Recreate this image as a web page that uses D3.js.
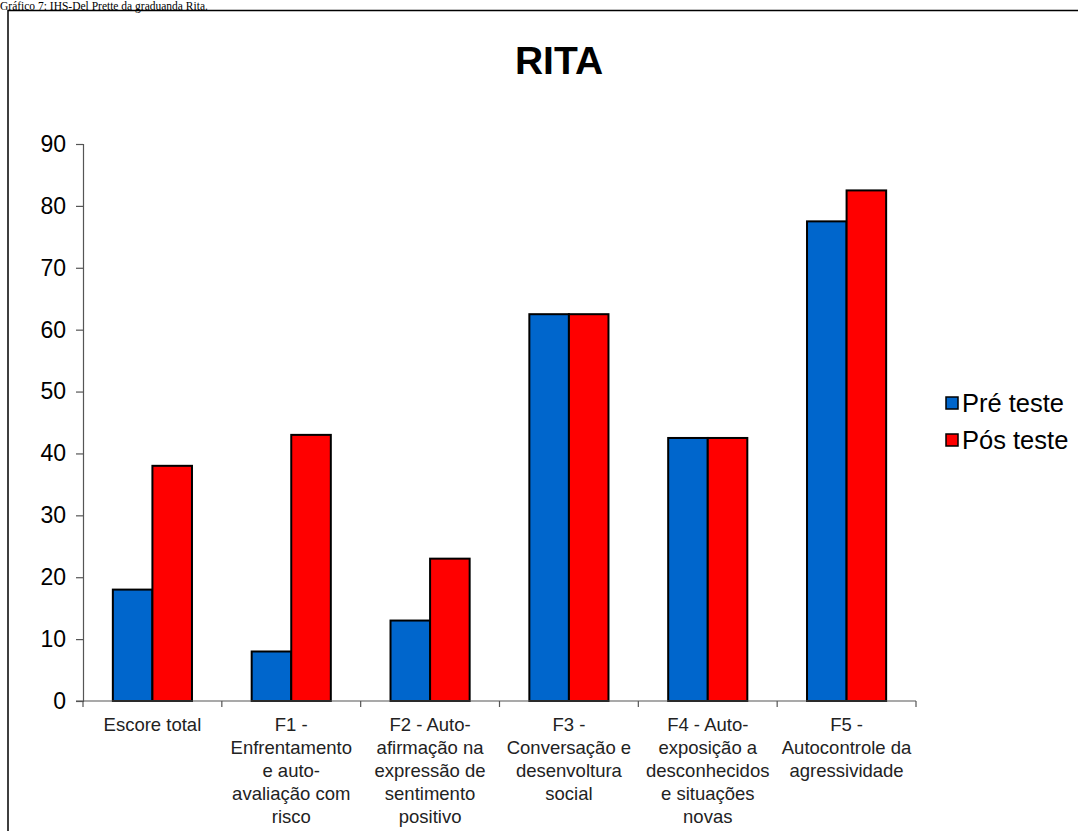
<!DOCTYPE html>
<html>
<head>
<meta charset="utf-8">
<script src="https://cdn.jsdelivr.net/npm/d3@7"></script>
<style>
  html, body { margin: 0; padding: 0; background: #fff; }
  svg { display: block; }
</style>
</head>
<body>
<svg id="chart" width="1078" height="831"></svg>
<script>
// Category labels, one array of wrapped lines per factor
const categories = [
  ["Escore total"],
  ["F1 -", "Enfrentamento", "e auto-", "avaliação com", "risco"],
  ["F2 - Auto-", "afirmação na", "expressão de", "sentimento", "positivo"],
  ["F3 -", "Conversação e", "desenvoltura", "social"],
  ["F4 - Auto-", "exposição a", "desconhecidos", "e situações", "novas"],
  ["F5 -", "Autocontrole da", "agressividade"]
];
const seriesNames = ["Pré teste", "Pós teste"];
const preTeste = [18, 8, 13, 62.5, 42.5, 77.5];
const posTeste = [38, 43, 23, 62.5, 42.5, 82.5];
const yTicks = [0, 10, 20, 30, 40, 50, 60, 70, 80, 90];
const seriesColors = ["#0066CC", "#FF0000"];

const svg = d3.select("#chart");
const catKeys = categories.map((c, i) => i);

const plot = { left: 83, right: 916, top: 144, bottom: 701 };

const x = d3.scaleBand().domain(catKeys).range([plot.left, plot.right]).paddingInner(0).paddingOuter(0);
const groupW = x.bandwidth() * 0.57;
const x1 = d3.scaleBand().domain([0, 1]).range([0, groupW]).padding(0);
const y = d3.scaleLinear().domain([0, 90]).range([plot.bottom, plot.top]);

// caption above the frame
svg.append("text")
  .attr("x", 0).attr("y", 10.3)
  .attr("font-family", "'Liberation Serif', 'Times New Roman', serif")
  .attr("font-size", 11.5)
  .attr("fill", "#000")
  .text("Gráfico 7: IHS-Del Prette da graduanda Rita.");

// chart frame
svg.append("path")
  .attr("d", "M8,840 L8,10.5 L1090,10.5")
  .attr("fill", "none").attr("stroke", "#000").attr("stroke-width", 1.5);

// title
svg.append("text")
  .attr("x", 559).attr("y", 74)
  .attr("text-anchor", "middle")
  .attr("font-family", "'Liberation Sans', Arial, sans-serif")
  .attr("font-weight", "bold")
  .attr("font-size", 39)
  .text("RITA");

// y axis
const yAxis = d3.axisLeft(y).tickValues(yTicks).tickSize(7).tickPadding(10).tickFormat(d3.format("d"));
const gy = svg.append("g").attr("transform", `translate(${plot.left},0)`).call(yAxis);
gy.select(".domain").attr("stroke", "#555").attr("stroke-width", 1.2);
gy.selectAll(".tick line").attr("stroke", "#555").attr("stroke-width", 1.2);
gy.selectAll(".tick text")
  .attr("font-family", "'Liberation Sans', Arial, sans-serif")
  .attr("font-size", 23).attr("fill", "#000");

// bars
const data = catKeys.map(i => ({ i, vals: [preTeste[i], posTeste[i]] }));
const groups = svg.append("g").selectAll("g")
  .data(data).join("g")
  .attr("transform", d => `translate(${x(d.i) + (x.bandwidth() - groupW) / 2},0)`);
groups.selectAll("rect")
  .data(d => d.vals.map((v, s) => ({ v, s })))
  .join("rect")
  .attr("x", d => x1(d.s))
  .attr("width", x1.bandwidth())
  .attr("y", d => y(d.v))
  .attr("height", d => y(0) - y(d.v))
  .attr("fill", d => seriesColors[d.s])
  .attr("stroke", "#000").attr("stroke-width", 2);

// x axis with ticks at category boundaries
const gx = svg.append("g");
gx.append("line")
  .attr("x1", plot.left - 7).attr("x2", plot.right)
  .attr("y1", y(0)).attr("y2", y(0))
  .attr("stroke", "#555").attr("stroke-width", 1.2);
const bounds = catKeys.map(i => x(i)).concat([plot.right]);
gx.selectAll("line.tb").data(bounds).join("line").attr("class", "tb")
  .attr("x1", d => d).attr("x2", d => d)
  .attr("y1", y(0)).attr("y2", y(0) + 6)
  .attr("stroke", "#555").attr("stroke-width", 1.2);

// category labels
const labels = gx.selectAll("text.cat").data(data).join("text").attr("class", "cat")
  .attr("text-anchor", "middle")
  .attr("font-family", "'Liberation Sans', Arial, sans-serif")
  .attr("font-size", 18.5).attr("fill", "#222");
labels.selectAll("tspan")
  .data(d => categories[d.i].map(line => ({ line, i: d.i })))
  .join("tspan")
  .attr("x", d => x(d.i) + x.bandwidth() / 2)
  .attr("y", (d, k) => 731 + k * 23)
  .text(d => d.line);

// legend
const legend = svg.append("g");
seriesNames.forEach((name, s) => {
  const ly = 397 + s * 37;
  legend.append("rect")
    .attr("x", 946).attr("y", ly).attr("width", 12).attr("height", 12)
    .attr("fill", seriesColors[s]).attr("stroke", "#000").attr("stroke-width", 1.5);
  legend.append("text")
    .attr("x", 962).attr("y", ly + 15)
    .attr("font-family", "'Liberation Sans', Arial, sans-serif")
    .attr("font-size", 25.5).attr("fill", "#000")
    .text(name);
});
</script>
</body>
</html>
